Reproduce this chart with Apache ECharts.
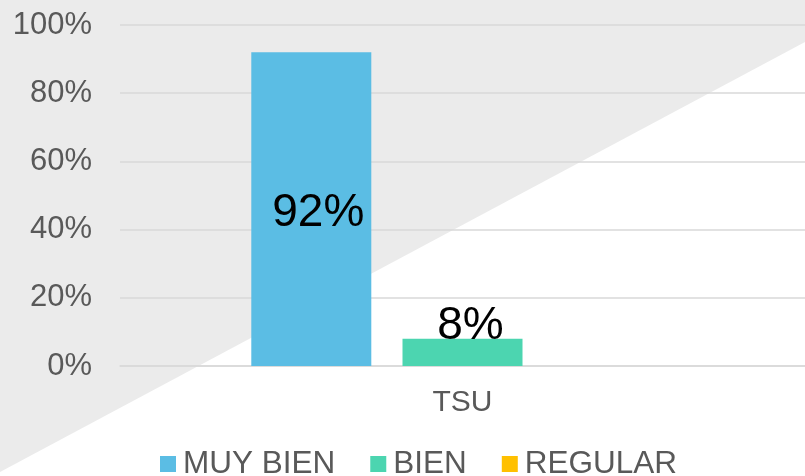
<!DOCTYPE html>
<html>
<head>
<meta charset="utf-8">
<script src="https://cdn.jsdelivr.net/npm/echarts@6/dist/echarts.min.js"></script>
<style>
html,body{margin:0;padding:0;background:#fff;}
#c{width:805px;height:476px;}
</style>
</head>
<body>
<div id="c"></div>
<script>
const categories = ['TSU'];
const muyBien = [92];
const bien = [8];
const regular = [0];
const seriesNames = ['MUY BIEN', 'BIEN', 'REGULAR'];
const yTicks = [0, 20, 40, 60, 80, 100];

const FONT = 'Liberation Sans, Arial, sans-serif';
const chart = echarts.init(document.getElementById('c'), null, {renderer: 'canvas'});
chart.setOption({
  animation: false,
  backgroundColor: '#ffffff',
  graphic: [{
    type: 'polygon',
    z: -10,
    silent: true,
    shape: {points: [[0,0],[805,0],[805,42],[0,472]]},
    style: {fill: '#EBEBEB'}
  }],
  grid: {left: 120, right: 0, top: 25, bottom: 110, containLabel: false},
  legend: {
    left: 155,
    top: 443,
    itemWidth: 16,
    itemHeight: 16,
    itemGap: 35,
    icon: 'rect',
    textStyle: {fontFamily: FONT, fontSize: 31.5, lineHeight: 32, color: '#595959', padding: [0,0,0,2]},
    data: seriesNames
  },
  xAxis: {
    type: 'category',
    data: categories,
    axisLine: {show: true, lineStyle: {color: '#D9D9D9', width: 1.5}},
    axisTick: {show: false},
    axisLabel: {fontFamily: FONT, fontSize: 30, color: '#595959', margin: 22}
  },
  yAxis: {
    type: 'value',
    min: yTicks[0],
    max: yTicks[yTicks.length - 1],
    interval: 20,
    axisLine: {show: false},
    axisTick: {show: false},
    splitLine: {lineStyle: {color: '#D9D9D9', width: 1.5}},
    axisLabel: {fontFamily: FONT, fontSize: 31, color: '#595959', margin: 28, formatter: '{value}%'}
  },
  series: [
    {
      name: seriesNames[0], type: 'bar', data: muyBien, barWidth: 120, barGap: '26%',
      itemStyle: {color: '#5BBDE4'},
      label: {show: true, position: 'inside', offset: [7, 4], fontFamily: FONT, fontSize: 46, color: '#000', formatter: '{c}%'}
    },
    {
      name: seriesNames[1], type: 'bar', data: bien, barWidth: 120, barGap: '26%',
      itemStyle: {color: '#4CD5B0'},
      label: {show: true, position: 'top', distance: -11, offset: [8, 0], fontFamily: FONT, fontSize: 46, color: '#000', formatter: '{c}%'}
    },
    {
      name: seriesNames[2], type: 'bar', data: regular, barWidth: 120, barGap: '26%',
      itemStyle: {color: '#FFC000'},
      label: {show: false}
    }
  ]
});
</script>
</body>
</html>
